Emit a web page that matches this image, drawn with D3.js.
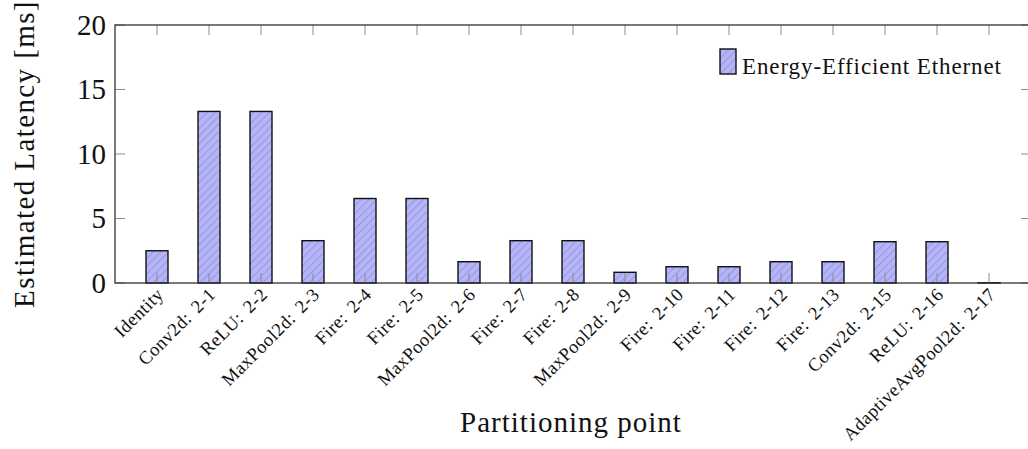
<!DOCTYPE html>
<html>
<head>
<meta charset="utf-8">
<script src="https://cdn.jsdelivr.net/npm/d3@7"></script>
<style>
	body { margin: 0; background: #fff; }
	svg { display: block; font-family: "Liberation Serif", "DejaVu Serif", serif; }
</style>
</head>
<body>
<div id="chart"></div>
<script>

// partitioning points along the x axis
var categories = [
	"Identity", "Conv2d: 2-1", "ReLU: 2-2", "MaxPool2d: 2-3", "Fire: 2-4", "Fire: 2-5",
	"MaxPool2d: 2-6", "Fire: 2-7", "Fire: 2-8", "MaxPool2d: 2-9", "Fire: 2-10",
	"Fire: 2-11", "Fire: 2-12", "Fire: 2-13", "Conv2d: 2-15", "ReLU: 2-16",
	"AdaptiveAvgPool2d: 2-17"
];

// estimated latency in ms
var latency_values = [
	2.5, 13.3, 13.3, 3.28, 6.55, 6.55,
	1.65, 3.28, 3.28, 0.83, 1.26,
	1.26, 1.65, 1.65, 3.2, 3.2,
	0.02
];

var y_ticks = [0, 5, 10, 15, 20];
var series_name = "Energy-Efficient Ethernet";

var width = 1028,
	height = 449;

// plot box (right side runs past the edge of the picture)
var plot = { left: 115, right: 1031, top: 25, bottom: 283 };
var enlarge = 42;

var svg = d3.select("#chart").append("svg")
	.attr("width", width)
	.attr("height", height);

var defs = svg.append("defs");
var hatch = defs.append("pattern")
	.attr("id", "hatch")
	.attr("patternUnits", "userSpaceOnUse")
	.attr("width", 5.5)
	.attr("height", 5.5)
	.attr("patternTransform", "rotate(45)");
hatch.append("rect")
	.attr("width", 5.5)
	.attr("height", 5.5)
	.attr("fill", "#b3b3ff");
hatch.append("line")
	.attr("x1", 0).attr("y1", 0)
	.attr("x2", 0).attr("y2", 5.5)
	.attr("stroke", "#8a8a8a")
	.attr("stroke-width", 1.1);

var x = d3.scalePoint()
	.domain(categories)
	.range([plot.left + enlarge, plot.right - enlarge]);

var y = d3.scaleLinear()
	.domain([0, 20])
	.range([plot.bottom, plot.top]);

var bar_width = 22;
var tick_len = 10;

// bars
svg.append("g").selectAll("rect")
	.data(latency_values)
	.enter().append("rect")
	.attr("x", function(d, i) { return x(categories[i]) - bar_width / 2; })
	.attr("y", function(d) { return y(d); })
	.attr("width", bar_width)
	.attr("height", function(d) { return y(0) - y(d); })
	.attr("fill", "url(#hatch)")
	.attr("stroke", "#111")
	.attr("stroke-width", 1.4);

// ticks, mirrored on all four sides
var ticks = svg.append("g")
	.attr("stroke", "#8c8c8c")
	.attr("stroke-width", 1);

y_ticks.forEach(function(t) {
	ticks.append("line")
		.attr("x1", plot.left).attr("x2", plot.left + tick_len)
		.attr("y1", y(t)).attr("y2", y(t));
	ticks.append("line")
		.attr("x1", plot.right).attr("x2", plot.right - tick_len)
		.attr("y1", y(t)).attr("y2", y(t));
});

categories.forEach(function(c) {
	ticks.append("line")
		.attr("x1", x(c)).attr("x2", x(c))
		.attr("y1", plot.top).attr("y2", plot.top + tick_len);
	ticks.append("line")
		.attr("x1", x(c)).attr("x2", x(c))
		.attr("y1", plot.bottom).attr("y2", plot.bottom - tick_len);
});

// frame
svg.append("rect")
	.attr("x", plot.left)
	.attr("y", plot.top)
	.attr("width", plot.right - plot.left)
	.attr("height", plot.bottom - plot.top)
	.attr("fill", "none")
	.attr("stroke", "#333")
	.attr("stroke-width", 1.3);

// y tick labels
svg.append("g").selectAll("text")
	.data(y_ticks)
	.enter().append("text")
	.attr("x", plot.left - 9)
	.attr("y", function(d) { return y(d); })
	.attr("dy", "0.34em")
	.attr("text-anchor", "end")
	.attr("font-size", 29)
	.attr("fill", "#111")
	.text(function(d) { return d; });

// x tick labels, rotated 45 degrees
// (latex puts a wider gap after the colon, hence word-spacing)
svg.append("g").selectAll("text")
	.data(categories)
	.enter().append("text")
	.attr("transform", function(d) {
		return "translate(" + (x(d) + 3) + "," + (plot.bottom + 8) + ") rotate(-45)";
	})
	.attr("dy", "0.35em")
	.attr("text-anchor", "end")
	.attr("font-size", 18.5)
	.attr("letter-spacing", 0.4)
	.attr("word-spacing", 3)
	.attr("fill", "#111")
	.text(function(d) { return d; });

// axis titles
svg.append("text")
	.attr("x", (plot.left + plot.right) / 2 - 2)
	.attr("y", 432)
	.attr("text-anchor", "middle")
	.attr("font-size", 29)
	.attr("letter-spacing", 1)
	.attr("fill", "#111")
	.text("Partitioning point");

svg.append("text")
	.attr("transform", "translate(34," + ((plot.top + plot.bottom) / 2) + ") rotate(-90)")
	.attr("text-anchor", "middle")
	.attr("font-size", 29)
	.attr("letter-spacing", 1.4)
	.attr("fill", "#111")
	.text("Estimated Latency [ms]");

// legend
var legend = svg.append("g");
legend.append("rect")
	.attr("x", 720)
	.attr("y", 49)
	.attr("width", 16)
	.attr("height", 25)
	.attr("fill", "url(#hatch)")
	.attr("stroke", "#111")
	.attr("stroke-width", 1.4);
legend.append("text")
	.attr("x", 742)
	.attr("y", 74)
	.attr("font-size", 23)
	.attr("letter-spacing", 0.9)
	.attr("fill", "#111")
	.text(series_name);

</script>
</body>
</html>
